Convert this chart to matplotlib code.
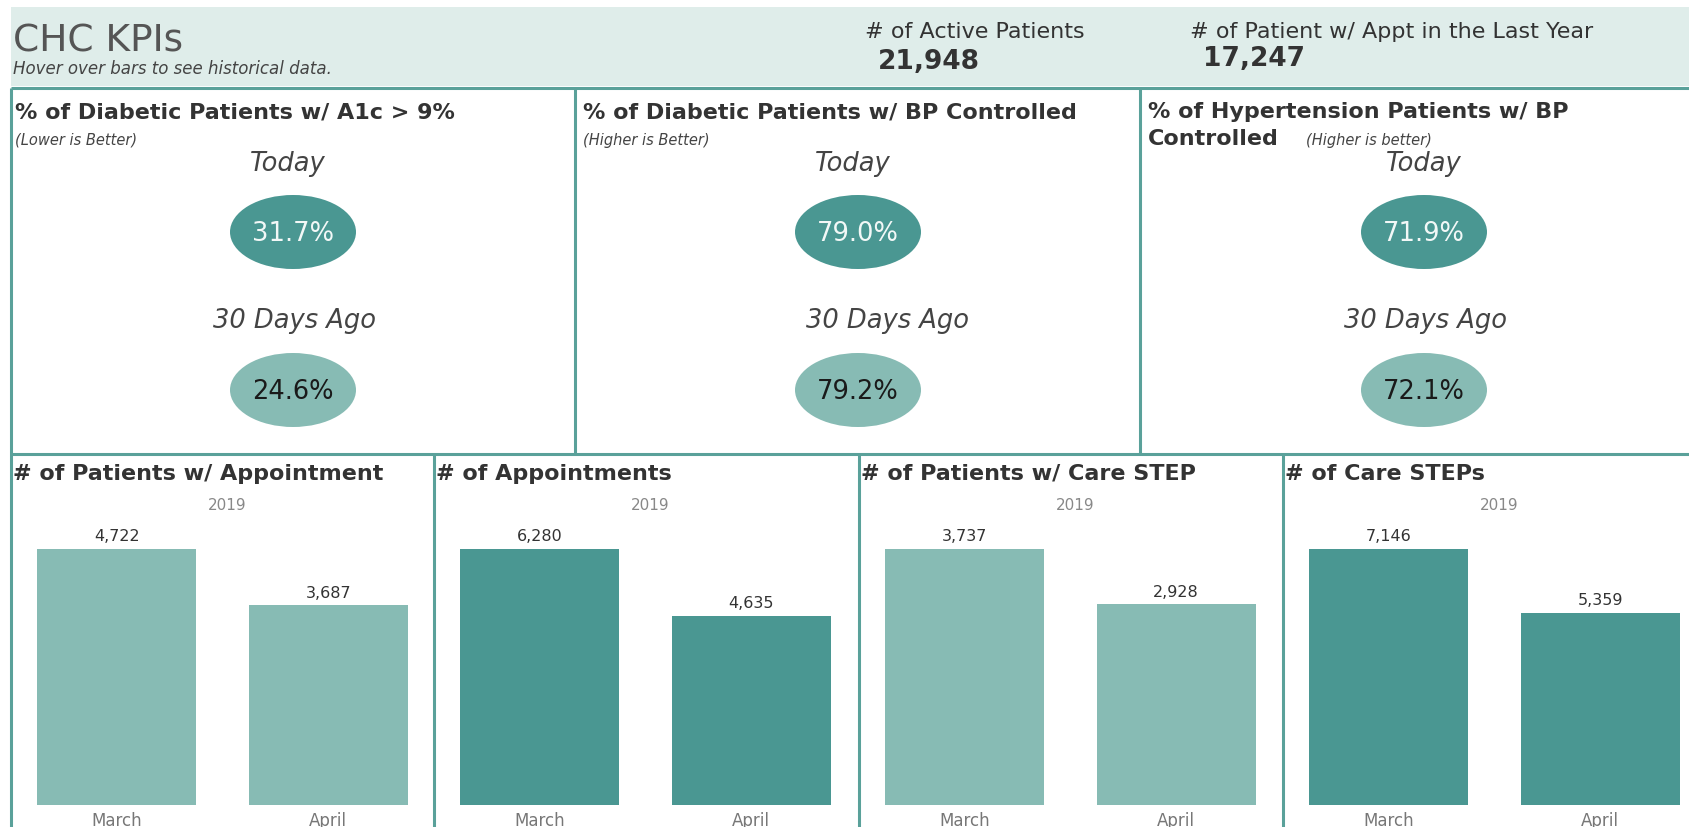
import matplotlib
matplotlib.use('Agg')
import matplotlib.pyplot as plt
from matplotlib.patches import Rectangle, Ellipse
from matplotlib.lines import Line2D

# ---------------- data ----------------
header_title = 'CHC KPIs'
header_subtitle = 'Hover over bars to see historical data.'
summary_labels = ['# of Active Patients', '# of Patient w/ Appt in the Last Year']
summary_values = [21948, 17247]

kpi_titles = [['% of Diabetic Patients w/ A1c > 9%'],
              ['% of Diabetic Patients w/ BP Controlled'],
              ['% of Hypertension Patients w/ BP', 'Controlled']]
kpi_notes = ['(Lower is Better)', '(Higher is Better)', '(Higher is better)']
period_labels = ['Today', '30 Days Ago']
kpi_today = [31.7, 79.0, 71.9]
kpi_30_days_ago = [24.6, 79.2, 72.1]

bar_titles = ['# of Patients w/ Appointment', '# of Appointments',
              '# of Patients w/ Care STEP', '# of Care STEPs']
bar_year = '2019'
months = ['March', 'April']
patients_w_appointment = [4722, 3687]
appointments = [6280, 4635]
patients_w_care_step = [3737, 2928]
care_steps = [7146, 5359]
bar_series = [patients_w_appointment, appointments, patients_w_care_step, care_steps]

# ---------------- style ----------------
W, H, DPI = 1690, 828, 100
plt.rcParams['font.family'] = ['DejaVu Sans']
BAND = '#DFEDEA'
BORDER = '#5AA19A'
DARK = '#4A9792'
LIGHT = '#87BBB4'
TXT = '#333333'

fig = plt.figure(figsize=(W / DPI, H / DPI), dpi=DPI)
fig.patch.set_facecolor('white')

# overlay axes in pixel coordinates (y downwards)
ov = fig.add_axes([0, 0, 1, 1])
ov.set_xlim(0, W)
ov.set_ylim(H, 0)
ov.axis('off')

# header band
ov.add_patch(Rectangle((11, 8), W - 11, 79, facecolor=BAND, edgecolor='none'))
ov.text(13, 41, header_title, fontsize=27, color='#555555', va='center', ha='left')
ov.text(13, 69, header_subtitle, fontsize=12, color='#444444', style='italic',
        va='center', ha='left')
sum_x = [865, 1190]
val_x = [878, 1203]
val_y = [62, 59]
for i, (lab, v) in enumerate(zip(summary_labels, summary_values)):
    ov.text(sum_x[i], 32, lab, fontsize=16, color=TXT, va='center', ha='left')
    ov.text(val_x[i], val_y[i], f'{v:,}', fontsize=19, fontweight='bold',
            color=TXT, va='center', ha='left')

# panel borders
def line(x0, y0, x1, y1, lw=2.2):
    ov.add_line(Line2D([x0, x1], [y0, y1], color=BORDER, lw=lw, solid_capstyle='butt'))

line(11, 89, W, 89)
line(11, 455, W, 455)
line(11, 89, 11, H)
for x in [575, 1140]:
    line(x, 89, x, 455)
for x in [434, 859, 1283]:
    line(x, 455, x, H)

# KPI panels
title_x = [15, 583, 1148]
note_x = [15, 583, 1306]
today_x = [288, 853, 1424]
circle_x = [293, 858, 1424]
ago_x = [295, 888, 1426]
for i in range(3):
    for j, t in enumerate(kpi_titles[i]):
        ov.text(title_x[i], 112 + 27 * j, t, fontsize=16, fontweight='bold',
                color=TXT, va='center', ha='left')
    ov.text(note_x[i], 140, kpi_notes[i], fontsize=10.5, style='italic',
            color='#444444', va='center', ha='left')
    ov.text(today_x[i], 164, period_labels[0], fontsize=18.5, style='italic',
            color='#444444', va='center', ha='center')
    ov.text(ago_x[i], 321, period_labels[1], fontsize=18.5, style='italic',
            color='#444444', va='center', ha='center')
    ov.add_patch(Ellipse((circle_x[i], 233), 126, 74, facecolor=DARK, edgecolor='none'))
    ov.text(circle_x[i], 234, f'{kpi_today[i]:.1f}%', fontsize=18.5,
            color='#F2F8F7', va='center', ha='center')
    ov.add_patch(Ellipse((circle_x[i], 391), 126, 74, facecolor=LIGHT, edgecolor='none'))
    ov.text(circle_x[i], 392, f'{kpi_30_days_ago[i]:.1f}%', fontsize=18.5,
            color='#1A1A1A', va='center', ha='center')

# bar panels
panel_left = [11, 434, 859, 1283]
bar_colors = [LIGHT, DARK, LIGHT, DARK]
ax_w = 423
ax_top, ax_bot = 530, 806
for i in range(4):
    ov.text(panel_left[i] + 2, 474, bar_titles[i], fontsize=16, fontweight='bold',
            color=TXT, va='center', ha='left')
    ov.text(panel_left[i] + ax_w / 2 + 5, 506, bar_year, fontsize=11,
            color='#888888', va='center', ha='center')
    ax = fig.add_axes([panel_left[i] / W, 1 - ax_bot / H, ax_w / W, (ax_bot - ax_top) / H])
    ax.set_facecolor('none')
    vals = bar_series[i]
    bars = ax.bar(months, vals, width=0.75, color=bar_colors[i])
    ax.set_xlim(-0.5, 1.5)
    ax.set_ylim(0, max(vals) * 1.078)
    for b, v in zip(bars, vals):
        ax.annotate(f'{v:,}', (b.get_x() + b.get_width() / 2, v), xytext=(0, 4),
                    textcoords='offset points', ha='center', va='bottom',
                    fontsize=11.5, color=TXT)
    for s in ax.spines.values():
        s.set_visible(False)
    ax.set_yticks([])
    ax.tick_params(axis='x', length=0, pad=4, labelsize=12, labelcolor='#777777')

fig.savefig('out.png', dpi=DPI, facecolor='white')
